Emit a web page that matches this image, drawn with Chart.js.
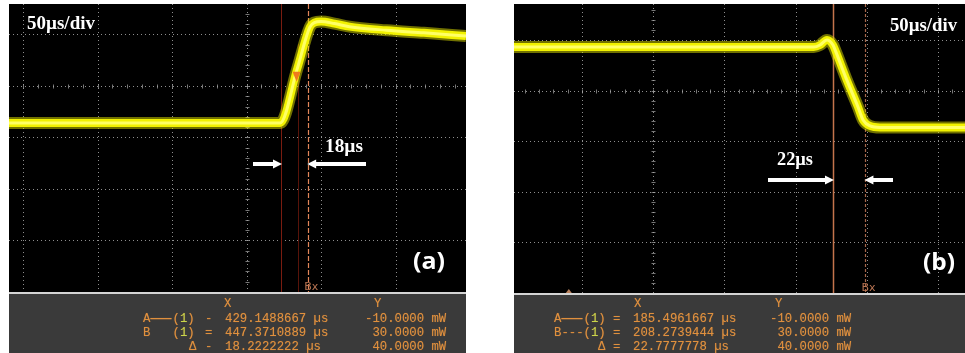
<!DOCTYPE html>
<html><head><meta charset="utf-8">
<script src="https://cdn.jsdelivr.net/npm/chart.js@4"></script>
<style>html,body{margin:0;padding:0;background:#fff;width:965px;height:353px;overflow:hidden;}canvas{position:absolute;left:0;top:0;}</style>
</head><body>
<canvas id="ca" width="965" height="353"></canvas>
<canvas id="cb" width="965" height="353"></canvas>
<script>
// ---------- DATA ----------
// Panel (a): rising edge. time in µs, level in divisions
const riseTime  = [246.6, 330, 428.6, 440, 448.5, 451.5, 456, 465, 475, 500, 525, 553.3];
const riseLevel = [3.28, 3.28, 3.28, 4.33, 5.14, 5.23, 5.25, 5.21, 5.15, 5.08, 5.03, 4.97];
// Panel (b): falling edge
const fallTime  = [-38.5, 120, 172, 176.4, 181.3, 185.5, 187.6, 194.6, 203, 206.6, 211.5, 218.5, 278.2];
const fallLevel = [4.86, 4.86, 4.86, 4.90, 5.00, 4.90, 4.76, 4.25, 3.68, 3.42, 3.30, 3.27, 3.27];
// grid (time) positions, level grid
const riseGridTime = [256, 306, 356, 406, 456, 506];
const fallGridTime = [9.2, 59.2, 109.2, 159.2, 209.2, 259.2];
const gridLevels = [1, 2, 3, 4, 5];
// cursors (µs)
const riseCursors = [429.1488667, 447.3710889];
const fallCursors = [185.4961667, 208.2739444];
// readouts
const riseReadX = ['429.1488667 µs', '447.3710889 µs', '18.2222222 µs'];
const riseReadY = ['-10.0000 mW', '30.0000 mW', '40.0000 mW'];
const fallReadX = ['185.4961667 µs', '208.2739444 µs', '22.7777778 µs'];
const fallReadY = ['-10.0000 mW', '30.0000 mW', '40.0000 mW'];
const scaleLabel = '50µs/div';
const riseDelta = '18µs';
const fallDelta = '22µs';

// ---------- DRAWING ----------
const ORANGE = '#e0903e', GREEN1 = '#c8d64a';
function ln(ctx, x1, y1, x2, y2) { ctx.beginPath(); ctx.moveTo(x1, y1); ctx.lineTo(x2, y2); ctx.stroke(); }
function scaledText(ctx, txt, x, y, font, width, align) {
  ctx.font = font; const w = ctx.measureText(txt).width; const s = width / w;
  ctx.save(); ctx.translate(x, y); ctx.scale(s, 1);
  ctx.fillText(txt, align === 'center' ? -w / 2 : 0, 0); ctx.restore();
}
function arrow(ctx, tail, tip, y) {
  const d = tip > tail ? 1 : -1, head = 9, hh = 4.5, sh = 2;
  ctx.beginPath();
  ctx.moveTo(tail, y - sh); ctx.lineTo(tip - d * head, y - sh); ctx.lineTo(tip - d * head, y - hh);
  ctx.lineTo(tip, y); ctx.lineTo(tip - d * head, y + hh); ctx.lineTo(tip - d * head, y + sh);
  ctx.lineTo(tail, y + sh); ctx.closePath(); ctx.fill();
}
function points(t, v) { return t.map((x, i) => ({ x: x, y: v[i] })); }

function scopePlugin(p) {
  return {
    id: 'scope' + p.key,
    beforeDraw(chart) {
      const { ctx, chartArea: a } = chart;
      ctx.save(); ctx.fillStyle = '#000'; ctx.fillRect(a.left, a.top, a.right - a.left, a.bottom - a.top); ctx.restore();
    },
    beforeDatasetsDraw(chart) {
      const { ctx, chartArea: a, scales: { x, y } } = chart;
      ctx.save();
      ctx.beginPath(); ctx.rect(a.left, a.top, a.right - a.left, a.bottom - a.top); ctx.clip();
      ctx.strokeStyle = 'rgba(190,190,190,0.75)'; ctx.lineWidth = 1; ctx.setLineDash([1, 3]);
      p.gridX.forEach(t => { const px = Math.round(x.getPixelForValue(t)) + 0.5; ln(ctx, px, a.top, px, a.bottom); });
      gridLevels.forEach(v => { const py = Math.round(y.getPixelForValue(v)) + 0.5; ln(ctx, a.left, py, a.right, py); });
      ctx.setLineDash([]);
      ctx.strokeStyle = 'rgba(170,170,170,0.7)';
      const cx = Math.round(x.getPixelForValue(p.gridX[p.centerIdx])) + 0.5;
      const cy = Math.round(y.getPixelForValue(4)) + 0.5;
      for (let v = 0; v <= y.max; v += 0.2) { const py = Math.round(y.getPixelForValue(v)) + 0.5; ln(ctx, cx - 2, py, cx + 2, py); }
      for (let t = p.gridX[0] - 50; t <= x.max; t += 10) { const px = Math.round(x.getPixelForValue(t)) + 0.5; ln(ctx, px, cy - 2, px, cy + 2); }
      // cursors
      const ax = Math.round(x.getPixelForValue(p.cursors[0])) + 0.5;
      const bx = Math.round(x.getPixelForValue(p.cursors[1])) + 0.5;
      ctx.strokeStyle = p.cursorA; ctx.lineWidth = p.cursorAW; ln(ctx, ax, a.top, ax, a.bottom);
      if (p.extraLine) { ctx.strokeStyle = 'rgba(110,25,12,0.8)'; ctx.lineWidth = 1; const ex = Math.round(x.getPixelForValue(p.extraLine)) + 0.5; ln(ctx, ex, a.top + 40, ex, a.bottom); }
      ctx.strokeStyle = p.cursorB; ctx.lineWidth = 1.2; ctx.setLineDash(p.dashB); ln(ctx, bx, a.top, bx, a.bottom);
      ctx.restore();
    },
    afterDatasetsDraw(chart) {
      const { ctx, chartArea: a, scales: { x, y } } = chart;
      ctx.save();
      // trigger marker
      if (p.trigger) {
        const tx = x.getPixelForValue(p.trigger[0]), ty = y.getPixelForValue(p.trigger[1]);
        ctx.fillStyle = '#f07a1c'; ctx.beginPath(); ctx.moveTo(tx - 4, ty - 5); ctx.lineTo(tx + 4, ty - 5); ctx.lineTo(tx, ty + 5); ctx.closePath(); ctx.fill();
      }
      if (p.bottomMark !== undefined) {
        const mx = x.getPixelForValue(p.bottomMark);
        ctx.fillStyle = '#b8805c'; ctx.beginPath(); ctx.moveTo(mx - 3, a.bottom); ctx.lineTo(mx + 3, a.bottom); ctx.lineTo(mx, a.bottom - 4); ctx.closePath(); ctx.fill();
      }
      // Bx label
      const bx = x.getPixelForValue(p.cursors[1]);
      ctx.fillStyle = '#b87452'; ctx.font = '11px "DejaVu Sans"'; ctx.textBaseline = 'alphabetic';
      ctx.fillText('Bx', bx - 4, a.bottom - 2);
      // annotations
      ctx.fillStyle = '#ffffff';
      scaledText(ctx, scaleLabel, p.divLabel[0], p.divLabel[1], 'bold 18px "Liberation Serif"', p.divLabel[2], 'left');
      scaledText(ctx, p.deltaText, p.deltaPos[0], p.deltaPos[1], 'bold 18px "Liberation Serif"', p.deltaPos[2], 'left');
      scaledText(ctx, p.tag, p.tagPos[0], p.tagPos[1], 'bold 23px "Open Sans"', 32, 'center');
      const ax = x.getPixelForValue(p.cursors[0]);
      arrow(ctx, p.arrowL, ax + 1, p.arrowY);
      arrow(ctx, p.arrowR, bx - 1, p.arrowY);
      // readout panel
      const top = a.bottom, w = a.right - a.left;
      ctx.fillStyle = '#3a3a3a'; ctx.fillRect(a.left, top, w, 353 - top);
      ctx.fillStyle = '#d4d4d4'; ctx.fillRect(a.left, top, w, 2);
      ctx.font = '12.3px "Liberation Mono"'; ctx.textBaseline = 'alphabetic';
      ctx.shadowColor = 'rgba(224,144,62,0.5)'; ctx.shadowBlur = 1;
      const c = 7.38, r = p.read;
      ctx.fillStyle = ORANGE;
      ctx.fillText('X', r.xh, 307); ctx.fillText('Y', r.yh, 307);
      const rows = [322, 336, 350];
      // row A
      ctx.fillText('A', r.lx, rows[0]);
      ctx.fillRect(r.lx + c, rows[0] - 4, 3 * c - 1, 1.2);
      ctx.fillText('(', r.lx + 4 * c, rows[0]); ctx.fillStyle = GREEN1; ctx.fillText('1', r.lx + 5 * c, rows[0]);
      ctx.fillStyle = ORANGE; ctx.fillText(')', r.lx + 6 * c, rows[0]); ctx.fillText(r.eqA, r.eq, rows[0]);
      // row B
      ctx.fillText(r.bLink, r.lx, rows[1]);
      ctx.fillText('(', r.lx + 4 * c, rows[1]); ctx.fillStyle = GREEN1; ctx.fillText('1', r.lx + 5 * c, rows[1]);
      ctx.fillStyle = ORANGE; ctx.fillText(')', r.lx + 6 * c, rows[1]); ctx.fillText('=', r.eq, rows[1]);
      // row delta
      ctx.fillText('Δ', r.dx, rows[2]); ctx.fillText(r.eqA, r.eq, rows[2]);
      for (let i = 0; i < 3; i++) {
        ctx.fillText(p.readX[i], r.vx, rows[i]);
        ctx.fillText(p.readY[i], r.vy + (p.readY[i][0] === '-' ? 0 : c), rows[i]);
      }
      ctx.restore();
    }
  };
}

function makeChart(id, times, levels, xmin, xmax, ymax, pad, p) {
  const pts = points(times, levels);
  const base = { data: pts, pointRadius: 0, cubicInterpolationMode: 'monotone', clip: 0, fill: false };
  return new Chart(document.getElementById(id), {
    type: 'line',
    data: { datasets: [
      Object.assign({}, base, { borderColor: '#ffff66', borderWidth: 3 }),
      Object.assign({}, base, { borderColor: '#f2f200', borderWidth: 8 }),
      Object.assign({}, base, { borderColor: 'rgba(225,225,0,0.5)', borderWidth: 12 })
    ] },
    options: {
      responsive: false, animation: false, devicePixelRatio: 1, events: [],
      layout: { padding: pad },
      plugins: { legend: { display: false }, tooltip: { enabled: false } },
      scales: {
        x: { type: 'linear', min: xmin, max: xmax, display: false },
        y: { type: 'linear', min: 0, max: ymax, display: false }
      }
    },
    plugins: [scopePlugin(p)]
  });
}

makeChart('ca', riseTime, riseLevel, 246.6, 553.3, 5.59, { left: 9, top: 4, right: 499, bottom: 61 }, {
  key: 'a', gridX: riseGridTime, centerIdx: 3, cursors: riseCursors,
  cursorA: '#7a1c10', cursorAW: 1, cursorB: '#e2865a', dashB: [5, 2], extraLine: 440.6,
  trigger: [439.6, 4.18],
  divLabel: [27, 29, 68], deltaText: riseDelta, deltaPos: [325, 152, 38], tag: '(a)', tagPos: [429, 269],
  arrowL: 253, arrowR: 366, arrowY: 164,
  readX: riseReadX, readY: riseReadY,
  read: { xh: 224, yh: 374, lx: 143, eq: 205, eqA: '-', bLink: 'B', dx: 189, vx: 225, vy: 365 }
});
makeChart('cb', fallTime, fallLevel, -38.5, 278.2, 5.71, { left: 514, top: 4, right: 0, bottom: 60 }, {
  key: 'b', gridX: fallGridTime, centerIdx: 1, cursors: fallCursors,
  cursorA: '#c4744c', cursorAW: 1.5, cursorB: '#a8684a', dashB: [3, 2],
  bottomMark: 0,
  divLabel: [890, 31, 67], deltaText: fallDelta, deltaPos: [777, 165, 36], tag: '(b)', tagPos: [939, 270],
  arrowL: 768, arrowR: 893, arrowY: 180,
  readX: fallReadX, readY: fallReadY,
  read: { xh: 634, yh: 775, lx: 554, eq: 613, eqA: '=', bLink: 'B---', dx: 598, vx: 633, vy: 770 }
});
</script>
</body></html>
